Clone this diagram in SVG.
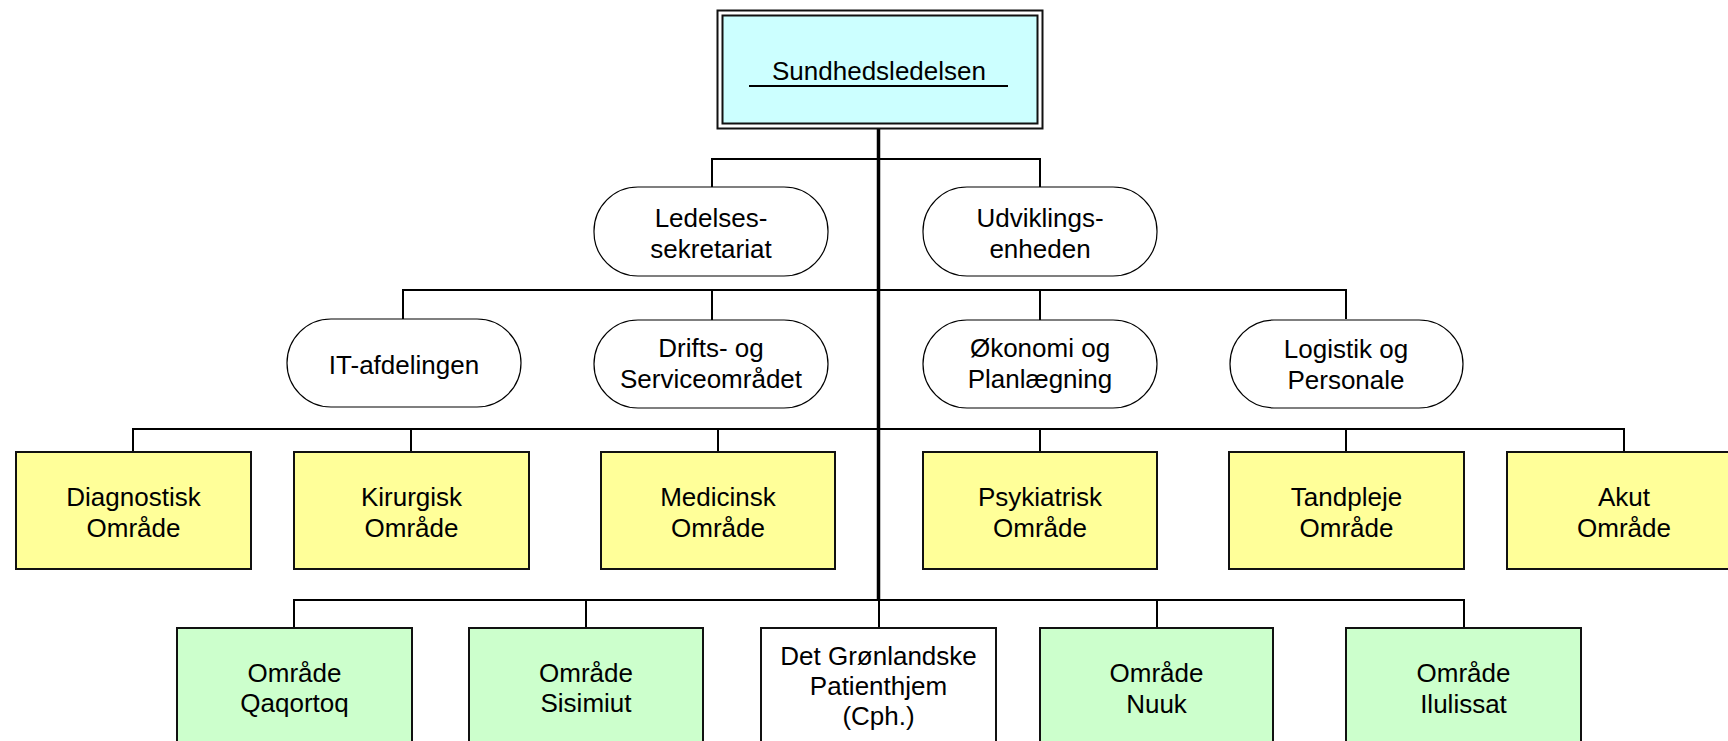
<svg xmlns="http://www.w3.org/2000/svg" width="1728" height="741" viewBox="0 0 1728 741">
<style>
text{font-family:"Liberation Sans",Arial,sans-serif;font-size:26px;fill:#000;text-anchor:middle}
.pill{fill:#fff;stroke:#000;stroke-width:1.2}
.yel{fill:#FFFF99;stroke:#111;stroke-width:2}
.grn{fill:#CCFFCC;stroke:#111;stroke-width:2}
.wht{fill:#fff;stroke:#111;stroke-width:2}
.ln{stroke:#000;stroke-width:2;fill:none}
.trunk{stroke:#000;stroke-width:3.5;fill:none}
</style>
<rect width="1728" height="741" fill="#fff"/>
<g id="connectors">
<line class="trunk" x1="878.5" y1="129" x2="878.5" y2="601"/>
<path class="ln" d="M712 187V159H1040V187"/>
<path class="ln" d="M403 319V290H1346V319M712 290V320M1040 290V320"/>
<path class="ln" d="M133 452V429H1624V452M411 429V452M718 429V452M1040 429V452M1346 429V452"/>
<path class="ln" d="M294 628V600H1464V628M586 600V628M879 600V628M1157 600V628"/>
</g>
<g id="n-sundhed">
<rect x="717.5" y="10.5" width="325" height="118" fill="#fff" stroke="#111" stroke-width="2"/>
<rect x="722.5" y="15.5" width="315" height="108" fill="#CCFFFF" stroke="#111" stroke-width="2"/>
<text x="879" y="80">Sundhedsledelsen</text>
<line x1="749" y1="86" x2="1008" y2="86" stroke="#000" stroke-width="2"/>
</g>
<g id="n-ledelses"><rect class="pill" x="594" y="187" width="234" height="89" rx="44" ry="44"/><text x="711" y="227">Ledelses-</text><text x="711" y="258">sekretariat</text></g>
<g id="n-udvikling"><rect class="pill" x="923" y="187" width="234" height="89" rx="44" ry="44"/><text x="1040" y="227">Udviklings-</text><text x="1040" y="258">enheden</text></g>
<g id="n-it"><rect class="pill" x="287" y="319" width="234" height="88" rx="44" ry="44"/><text x="404" y="374">IT-afdelingen</text></g>
<g id="n-drift"><rect class="pill" x="594" y="320" width="234" height="88" rx="44" ry="44"/><text x="711" y="357">Drifts- og</text><text x="711" y="388">Serviceområdet</text></g>
<g id="n-okonomi"><rect class="pill" x="923" y="320" width="234" height="88" rx="44" ry="44"/><text x="1040" y="357">Økonomi og</text><text x="1040" y="388">Planlægning</text></g>
<g id="n-logistik"><rect class="pill" x="1230" y="320" width="233" height="88" rx="44" ry="44"/><text x="1346" y="358">Logistik og</text><text x="1346" y="389">Personale</text></g>
<g id="n-diagnostisk"><rect class="yel" x="16" y="452" width="235" height="117"/><text x="133.5" y="506">Diagnostisk</text><text x="133.5" y="537">Område</text></g>
<g id="n-kirurgisk"><rect class="yel" x="294" y="452" width="235" height="117"/><text x="411.5" y="506">Kirurgisk</text><text x="411.5" y="537">Område</text></g>
<g id="n-medicinsk"><rect class="yel" x="601" y="452" width="234" height="117"/><text x="718" y="506">Medicinsk</text><text x="718" y="537">Område</text></g>
<g id="n-psykiatrisk"><rect class="yel" x="923" y="452" width="234" height="117"/><text x="1040" y="506">Psykiatrisk</text><text x="1040" y="537">Område</text></g>
<g id="n-tandpleje"><rect class="yel" x="1229" y="452" width="235" height="117"/><text x="1346.5" y="506">Tandpleje</text><text x="1346.5" y="537">Område</text></g>
<g id="n-akut"><rect class="yel" x="1507" y="452" width="234" height="117"/><text x="1624" y="506">Akut</text><text x="1624" y="537">Område</text></g>
<g id="n-qaqortoq"><rect class="grn" x="177" y="628" width="235" height="125"/><text x="294.5" y="682">Område</text><text x="294.5" y="712">Qaqortoq</text></g>
<g id="n-sisimiut"><rect class="grn" x="469" y="628" width="234" height="125"/><text x="586" y="682">Område</text><text x="586" y="712">Sisimiut</text></g>
<g id="n-patienthjem"><rect class="wht" x="761" y="628" width="235" height="125"/><text x="878.5" y="665">Det Grønlandske</text><text x="878.5" y="695">Patienthjem</text><text x="878.5" y="725">(Cph.)</text></g>
<g id="n-nuuk"><rect class="grn" x="1040" y="628" width="233" height="125"/><text x="1156.5" y="682">Område</text><text x="1156.5" y="713">Nuuk</text></g>
<g id="n-ilulissat"><rect class="grn" x="1346" y="628" width="235" height="125"/><text x="1463.5" y="682">Område</text><text x="1463.5" y="713">Ilulissat</text></g>
</svg>
